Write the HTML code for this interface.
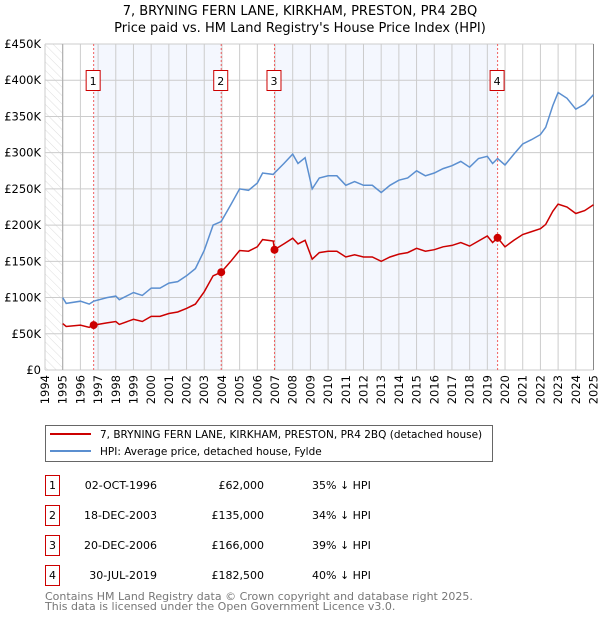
<!DOCTYPE html>
<html><head><meta charset="utf-8"><style>
body{margin:0;background:#fff;}
svg{display:block;font-family:"DejaVu Sans","Liberation Sans",sans-serif;}
</style></head><body>
<svg id="chart" width="600" height="620" viewBox="0 0 600 620" xmlns="http://www.w3.org/2000/svg">
<defs><pattern id="hatch" width="6" height="6" patternUnits="userSpaceOnUse" patternTransform="rotate(-45)"><line x1="0" y1="0" x2="0" y2="6" stroke="#ddd" stroke-width="1"/></pattern></defs>
<text x="300" y="15" text-anchor="middle" font-size="13">7, BRYNING FERN LANE, KIRKHAM, PRESTON, PR4 2BQ</text>
<text x="300" y="32" text-anchor="middle" font-size="13">Price paid vs. HM Land Registry's House Price Index (HPI)</text>
<g id="plot"></g>
<g>
<rect x="45.5" y="425.5" width="447" height="36" fill="#fff" stroke="#666"/>
<line x1="50" y1="434" x2="91" y2="434" stroke="#cc0000" stroke-width="2"/>
<text x="100" y="438" font-size="10.5">7, BRYNING FERN LANE, KIRKHAM, PRESTON, PR4 2BQ (detached house)</text>
<line x1="50" y1="451" x2="91" y2="451" stroke="#5b8fd0" stroke-width="2"/>
<text x="100" y="455" font-size="10.5">HPI: Average price, detached house, Fylde</text>
</g>
<g id="table" font-size="11"></g>
<text x="45" y="600" font-size="11" fill="#777">Contains HM Land Registry data © Crown copyright and database right 2025.</text>
<text x="45" y="610" font-size="11" fill="#777">This data is licensed under the Open Government Licence v3.0.</text>
</svg>
<script>
const years=[1995,1995.2,1996,1996.5,1996.75,1997.5,1998,1998.2,1999,1999.5,2000,2000.5,2001,2001.5,2002,2002.5,2003,2003.5,2003.96,2004.5,2005,2005.5,2006,2006.3,2006.9,2006.97,2007.5,2008,2008.3,2008.7,2009.1,2009.5,2010,2010.5,2011,2011.5,2012,2012.5,2013,2013.5,2014,2014.5,2015,2015.5,2016,2016.5,2017,2017.5,2018,2018.5,2019,2019.3,2019.58,2020,2020.5,2021,2021.5,2022,2022.3,2022.7,2023,2023.5,2024,2024.5,2025];
const hpiValues=[100,92,95,91,95,100,102,97,107,103,113,113,120,122,130,140,165,200,205,228,250,248,258,272,270,272,285,298,285,293,250,265,268,268,255,260,255,255,245,255,262,265,275,268,272,278,282,288,280,292,295,285,292,283,298,312,318,325,335,365,383,375,360,367,380];
const priceValues=[64,60,62,59,62,65,67,63,70,67,74,74,78,80,85,91,108,130,135,150,165,164,170,180,178,166,174,182,174,179,153,162,164,164,156,159,156,156,150,156,160,162,168,164,166,170,172,176,171,178,185,176,182.5,170,179,187,191,195,201,219,229,225,216,220,228];
const saleYears=[1996.75,2003.96,2006.97,2019.58];
const salePrices=[62,135,166,182.5];
const saleLabels=["1","2","3","4"];
const saleDates=["02-OCT-1996","18-DEC-2003","20-DEC-2006","30-JUL-2019"];
const salePriceText=["£62,000","£135,000","£166,000","£182,500"];
const saleDiff=["35% ↓ HPI","34% ↓ HPI","39% ↓ HPI","40% ↓ HPI"];
const yTicks=[0,50,100,150,200,250,300,350,400,450];
const yTickLabels=["£0","£50K","£100K","£150K","£200K","£250K","£300K","£350K","£400K","£450K"];
const xTicks=[1994,1995,1996,1997,1998,1999,2000,2001,2002,2003,2004,2005,2006,2007,2008,2009,2010,2011,2012,2013,2014,2015,2016,2017,2018,2019,2020,2021,2022,2023,2024,2025];

const NS="http://www.w3.org/2000/svg";
const X0=45,X1=593.5,Y0=370,Y1=44;
const xs=y=>X0+(y-1994)/(2025-1994)*(X1-X0);
const ys=v=>Y0-v/450*(Y0-Y1);
const plot=document.getElementById('plot');
function mk(tag,attrs,parent){const e=document.createElementNS(NS,tag);for(const k in attrs)e.setAttribute(k,attrs[k]);(parent||plot).appendChild(e);return e;}
for(let i=0;i<saleYears.length;i+=2){
 const r=mk('rect',{x:xs(saleYears[i]),y:Y1,width:xs(saleYears[i+1])-xs(saleYears[i]),height:Y0-Y1,fill:'#f4f7fe'});
 
 
}
const h=mk('rect',{x:X0,y:Y1,width:xs(1995)-X0,height:Y0-Y1,fill:'url(#hatch)'});


yTicks.forEach((t,i)=>{
 const l=mk('line',{x1:X0,x2:X1,y1:ys(t),y2:ys(t),stroke:'#ccc'});
 
 
 const tx=mk('text',{x:X0-4,y:ys(t)+4,'text-anchor':'end','font-size':11.5});
 
 
 tx.textContent=yTickLabels[i];
});
xTicks.forEach(t=>{
 const l=mk('line',{x1:xs(t),x2:xs(t),y1:Y1,y2:Y0,stroke:'#ccc'});
 
 
 const tx=mk('text',{x:0,y:0,'font-size':11.5,'text-anchor':'end',transform:`translate(${xs(t)+4},${Y0+5}) rotate(-90)`});
 
 
 tx.textContent=t;
});
mk('line',{x1:xs(1995),x2:xs(1995),y1:Y1,y2:Y0,stroke:'#aaa'});
mk('line',{x1:X1,x2:X1,y1:Y1,y2:Y0,stroke:'#888'});
saleYears.forEach((s,i)=>{
 const l=mk('line',{x1:xs(s),x2:xs(s),y1:Y1,y2:Y0,stroke:'#f06060','stroke-dasharray':'2,2'});
 
 
 const g=mk('g',{});
 
 
 mk('rect',{x:xs(s)-7.5,y:70.5,width:14,height:20,fill:'#fff',stroke:'#cc0000'},g);
 const t=mk('text',{x:xs(s)-0.5,y:85,'text-anchor':'middle','font-size':11},g);t.textContent=saleLabels[i];
});
const pts=v=>years.map((y,i)=>xs(y).toFixed(1)+','+ys(v[i]).toFixed(1)).join(' ');
const hl=mk('polyline',{points:pts(hpiValues),fill:'none',stroke:'#5b8fd0','stroke-width':1.5});


const pl=mk('polyline',{points:pts(priceValues),fill:'none',stroke:'#cc0000','stroke-width':1.5});


saleYears.forEach((s,i)=>{
 const c=mk('circle',{cx:xs(s),cy:ys(salePrices[i]),r:4,fill:'#cc0000'});
 
 
});
const tb=document.getElementById('table');
saleLabels.forEach((lab,i)=>{
 const y=475+i*30;
 const g=mk('g',{},tb);
 
 
 mk('rect',{x:45.5,y:y+0.5,width:14,height:20,fill:'#fff',stroke:'#cc0000'},g);
 const a=mk('text',{x:52.5,y:y+14,'text-anchor':'middle'},g);a.textContent=lab;
 const b=mk('text',{x:157,y:y+14,'text-anchor':'end'},g);b.textContent=saleDates[i];
 const c=mk('text',{x:264,y:y+14,'text-anchor':'end'},g);c.textContent=salePriceText[i];
 const d=mk('text',{x:312,y:y+14},g);d.textContent=saleDiff[i];
});
</script>
</body></html>
